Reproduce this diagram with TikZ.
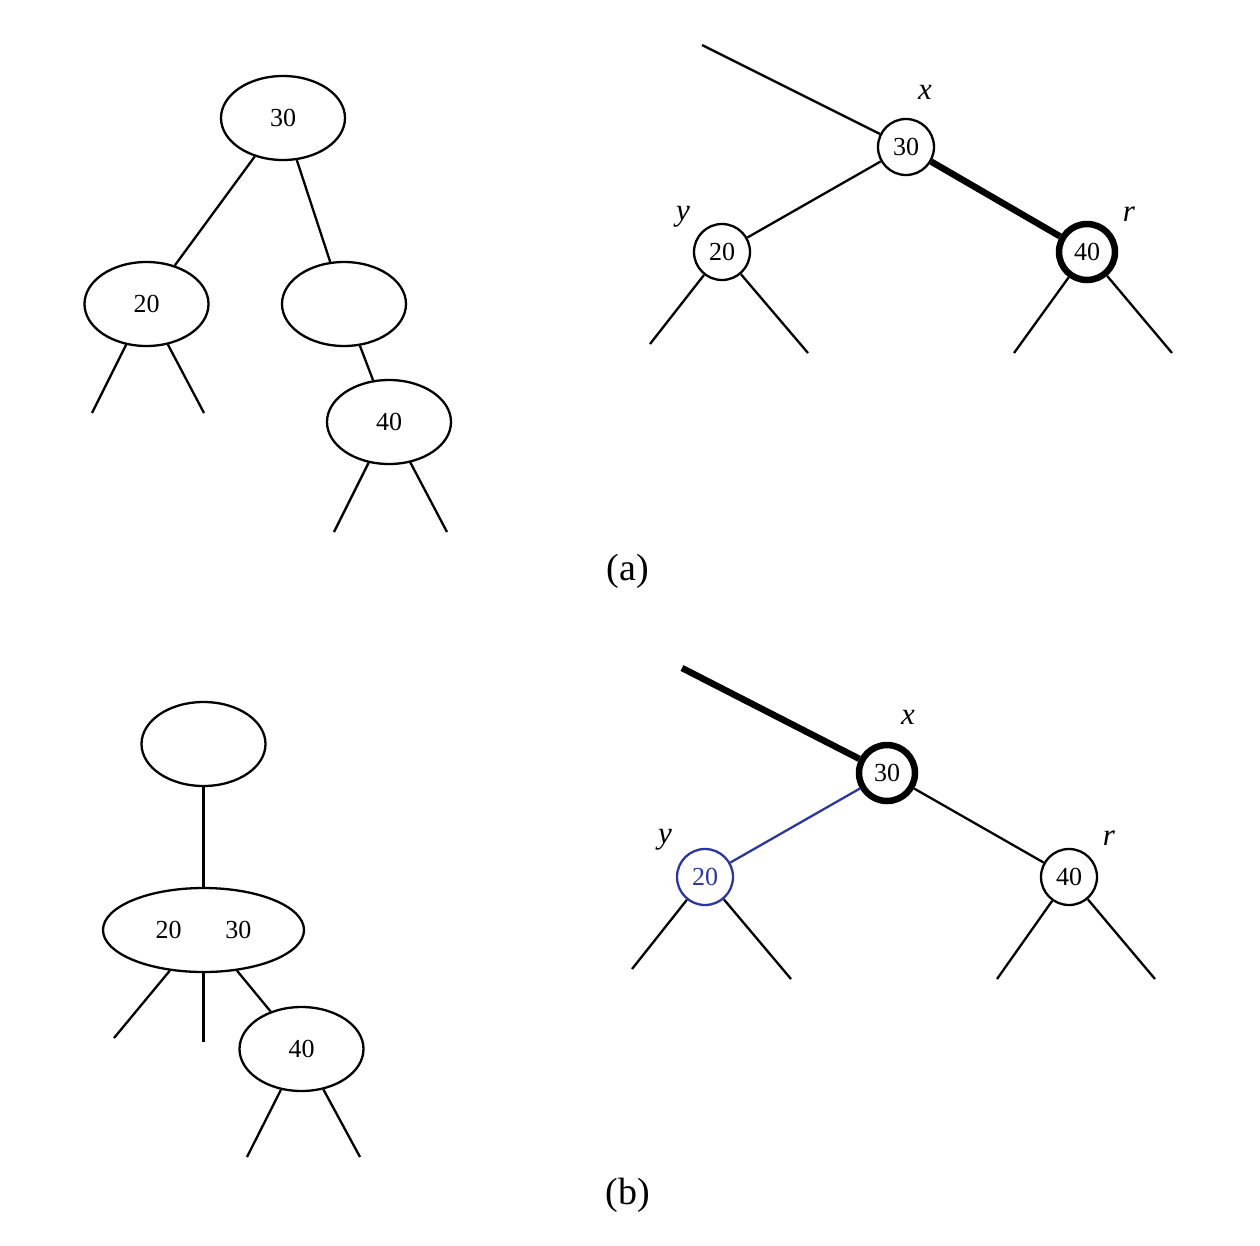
\documentclass[tikz,border=0pt]{standalone}
\usepackage{fontspec}
\setmainfont{Liberation Serif}
\usetikzlibrary{shapes}

\definecolor{bluey}{RGB}{44,54,155}

\begin{document}
\begin{tikzpicture} 
  [  
     x=1pt, y=-1pt,
     elli/.style={shape=ellipse, 
                  draw,
                  line width=2.3pt,
                  inner sep=0pt,
                  minimum width=124pt, 
                  minimum height=84pt,
                  font=\fontsize{26}{31}\selectfont}, 
     circ/.style={draw,
                  circle,
                  line width=2.3pt,
                  inner sep=0pt,
                  minimum size=56pt,
                  font=\fontsize{26}{31}\selectfont},
     heavy/.style={line width=6.5pt},
     link/.style={line width=2.3pt},
     lab/.style={font=\fontsize{31}{37}\selectfont\itshape},
     capt/.style={font=\fontsize{38}{45}\selectfont}
  ]
    \useasboundingbox (0,0) rectangle (1260,1245);

    % (a) left
    \begin{scope}
        \node[elli] (a30) at (283,118) {30};
        \node[elli] (a20) at (146.5,304) {20};
        \node[elli] (aE)  at (344,304) {};
        \node[elli] (a40) at (389,422) {40};
        \coordinate (a20l) at (92,413);
        \coordinate (a20r) at (204,413);
        \coordinate (a40l) at (334,532);
        \coordinate (a40r) at (447,532);
        \draw[link] (a30) -- (a20);
        \draw[link] (a30) -- (aE);
        \draw[link] (aE) -- (a40);
        \foreach \n in {a20,a40}{
            \draw[link] (\n) -- (\n l);
            \draw[link] (\n) -- (\n r);
        }
    \end{scope}

    % (a) right
    \begin{scope}
        \node[circ] (x1) at (906,147) {30};
        \node[circ] (y1) at (722,252) {20};
        \node[circ,heavy] (r1) at (1087,252) {40};
        \coordinate (top1) at (702,45);
        \coordinate (y1l) at (650,344);
        \coordinate (y1r) at (808,353);
        \coordinate (r1l) at (1014,353);
        \coordinate (r1r) at (1172,353);
        \draw[link] (top1) -- (x1);
        \draw[link] (x1) -- (y1);
        \draw[heavy] (x1) -- (r1);
        \foreach \n in {y1,r1}{
            \draw[link] (\n) -- (\n l);
            \draw[link] (\n) -- (\n r);
        }
        \node[lab] (xl1) at (925,92) {x};
        \node[lab] (yl1) at (683,217) {y};
        \node[lab] (rl1) at (1129,214) {r};
    \end{scope}

    \node[capt] (capa) at (628,571) {(a)};

    % (b) left
    \begin{scope}
        \node[elli] (bE) at (203.5,744) {};
        \node[elli,minimum width=201pt] (b23) at (203.5,930) {20\hspace{44pt}30};
        \node[elli] (b40) at (301.5,1049) {40};
        \coordinate (b23l) at (114,1038);
        \coordinate (b23m) at (203.5,1042);
        \coordinate (b40l) at (247,1157);
        \coordinate (b40r) at (360,1157);
        \draw[link] (bE) -- (b23);
        \draw[link] (b23) -- (b23l);
        \draw[link] (b23) -- (b23m);
        \draw[link] (b23) -- (b40);
        \draw[link] (b40) -- (b40l);
        \draw[link] (b40) -- (b40r);
    \end{scope}

    % (b) right
    \begin{scope}
        \node[circ,heavy] (x2) at (887,773) {30};
        \node[circ,draw=bluey,text=bluey] (y2) at (705,877) {20};
        \node[circ] (r2) at (1069,877) {40};
        \coordinate (top2) at (682,668);
        \coordinate (y2l) at (632,969);
        \coordinate (y2r) at (791,979);
        \coordinate (r2l) at (997,979);
        \coordinate (r2r) at (1155,979);
        \draw[heavy] (top2) -- (x2);
        \draw[link,bluey] (x2) -- (y2);
        \draw[link] (x2) -- (r2);
        \foreach \n in {y2,r2}{
            \draw[link] (\n) -- (\n l);
            \draw[link] (\n) -- (\n r);
        }
        \node[lab] (xl2) at (908,717) {x};
        \node[lab] (yl2) at (665,840) {y};
        \node[lab] (rl2) at (1109,838) {r};
    \end{scope}

    \node[capt] (capb) at (628,1195) {(b)};

\end{tikzpicture}
\end{document}
